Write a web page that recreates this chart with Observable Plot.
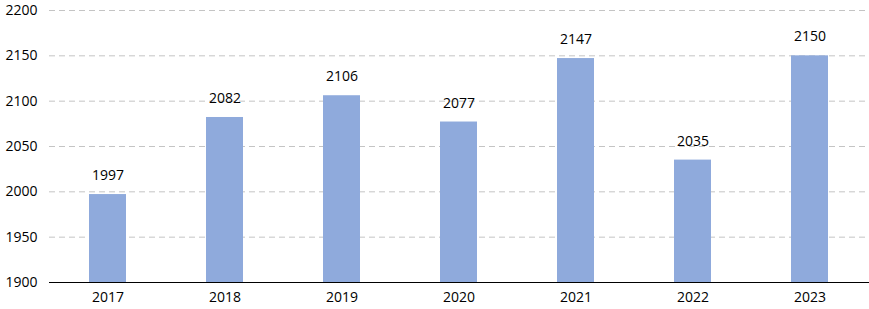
<!DOCTYPE html>
<html><head><meta charset="utf-8">
<script src="https://cdn.jsdelivr.net/npm/d3@7"></script>
<script src="https://cdn.jsdelivr.net/npm/@observablehq/plot@0.6"></script>
<style>body{margin:0;background:#fff;} svg{display:block;}</style>
</head><body><div id="chart"></div>
<script>
const years = ["2017","2018","2019","2020","2021","2022","2023"];
const values = [1997, 2082, 2106, 2077, 2147, 2035, 2150];
const yTicks = [1900, 1950, 2000, 2050, 2100, 2150, 2200];
const data = years.map((y, i) => ({year: y, value: values[i]}));

const chart = Plot.plot({
  width: 869, height: 309,
  marginTop: 10, marginBottom: 27, marginLeft: 49, marginRight: 0,
  style: {fontFamily: "Open Sans, Lato, sans-serif", fontSize: "14px", color: "#000", background: "#fff"},
  x: {domain: years, paddingInner: 0.68, paddingOuter: 0.34, align: 0.5, label: null, tickSize: 0, tickPadding: 10},
  y: {domain: [1900, 2200], ticks: yTicks, tickFormat: d => String(d), label: null, tickSize: 0, tickPadding: 12},
  marks: [
    Plot.ruleY(yTicks.filter(d => d > 1900), {stroke: "#c4c4c4", strokeDasharray: "6,4", strokeWidth: 1}),
    Plot.barY(data, {x: "year", y1: 1900, y2: "value", fill: "#8faadc"}),
    Plot.ruleY([1900], {stroke: "#000", strokeWidth: 1.2}),
    Plot.text(data, {x: "year", y: "value", text: d => String(d.value), dy: -19, fill: "#000", fontSize: 14})
  ]
});
document.getElementById("chart").append(chart);
</script></body></html>
